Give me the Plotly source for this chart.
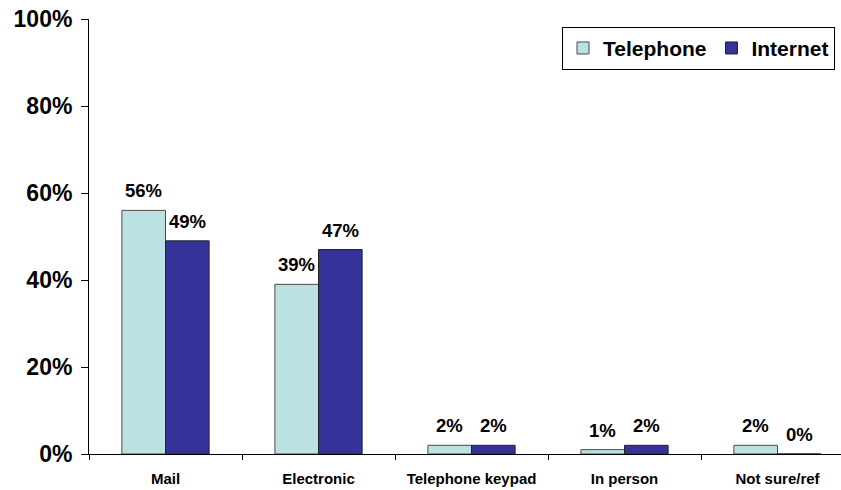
import plotly.graph_objects as go

categories = ["Mail", "Electronic", "Telephone keypad", "In person", "Not sure/ref"]
telephone = [56, 39, 2, 1, 2]
internet = [49, 47, 2, 2, 0]
y_ticks = [0, 20, 40, 60, 80, 100]
y_tick_labels = ["0%", "20%", "40%", "60%", "80%", "100%"]

FONT = "Arial, Liberation Sans, sans-serif"

FIG_W, FIG_H = 841, 490
M_L, M_R, M_T, M_B = 89, 0, 19, 36
X_RANGE = [-0.5, 4.415]
BARGAP = 0.43

fig = go.Figure()
fig.add_trace(go.Bar(
    name="Telephone", x=categories, y=telephone,
    marker=dict(color="#BCE1E3", line=dict(color="#4a4a4a", width=1)),
))
fig.add_trace(go.Bar(
    name="Internet", x=categories, y=internet,
    marker=dict(color="#333399", line=dict(color="#222222", width=1)),
))

# value labels above each bar, placed through the axes
plot_w = FIG_W - M_L - M_R
cat_px = plot_w / (X_RANGE[1] - X_RANGE[0])
half_bar = cat_px * (1 - BARGAP) / 4
for series, sign in ((telephone, -1), (internet, 1)):
    for cat, v in zip(categories, series):
        fig.add_annotation(
            x=cat, y=v, xref="x", yref="y", text=f"{v}%", showarrow=False,
            xanchor="center", yanchor="bottom", xshift=sign * half_bar, yshift=7,
            font=dict(family=FONT, size=18.5, color="black", weight="bold"),
        )

fig.update_layout(
    width=FIG_W, height=FIG_H,
    margin=dict(l=M_L, r=M_R, t=M_T, b=M_B, autoexpand=False),
    plot_bgcolor="white", paper_bgcolor="white",
    barmode="group", bargap=BARGAP, bargroupgap=0,
    font=dict(family=FONT, color="black"),
    showlegend=True,
    legend=dict(
        orientation="h", x=0.629, xanchor="left", y=0.982, yanchor="top",
        bordercolor="black", borderwidth=1, bgcolor="white",
        font=dict(family=FONT, size=21, color="black", weight="bold"),
        itemclick=False, tracegroupgap=0,
    ),
)
fig.update_xaxes(
    range=X_RANGE,
    showline=True, linecolor="black", linewidth=1,
    ticks="outside", tickson="boundaries", ticklen=5, tickcolor="black",
    ticklabelstandoff=11, ticklabeloverflow="allow",
    tickfont=dict(family=FONT, size=15, color="black", weight="bold"),
    showgrid=False, fixedrange=True, automargin=False,
)
fig.update_yaxes(
    range=[0, 100],
    tickvals=y_ticks, ticktext=y_tick_labels,
    showline=True, linecolor="black", linewidth=1,
    ticks="outside", ticklen=7, tickcolor="black",
    ticklabelstandoff=4, ticklabeloverflow="allow",
    tickfont=dict(family=FONT, size=23, color="black", weight="bold"),
    showgrid=False, zeroline=False, fixedrange=True, automargin=False,
)

fig.write_html(
    "out.html",
    config={"displayModeBar": False},
    post_script="document.body.style.margin='0';document.body.style.overflow='hidden';",
)
